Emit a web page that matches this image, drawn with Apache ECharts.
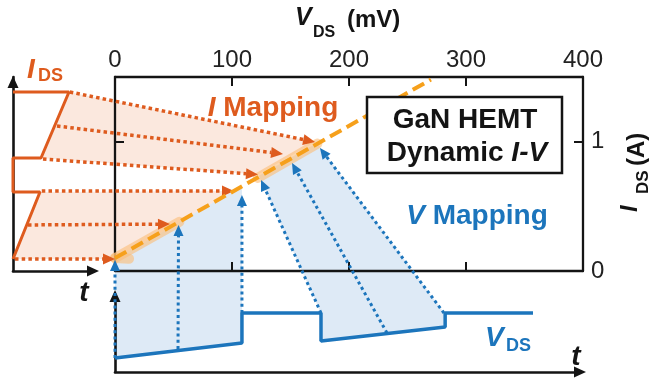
<!DOCTYPE html>
<html>
<head>
<meta charset="utf-8">
<script src="https://cdn.jsdelivr.net/npm/echarts@6/dist/echarts.min.js"></script>
<style>
html, body { margin: 0; padding: 0; background: #fff; }
#chart { width: 649px; height: 384px; }
</style>
</head>
<body>
<div id="chart"></div>
<script>
// ---------- I–V plane: V_DS (mV) vs I_DS (A) ----------
const vTicks = [0, 100, 200, 300, 400];
const iTickLabels = [0, 1];
const loadLine = [[0, 0.10], [270, 1.48]];
const measuredStart = [[0, 0.10], [12, 0.095]];
const measuredLow = [[0, 0.10], [55, 0.38]];
const measuredHigh = [[122, 0.72], [173, 0.985]];

// ---------- current waveform: t (a.u.) vs I_DS (A) ----------
const iWave = [[0, 0.093], [3.375, 0.611], [0, 0.611], [0, 0.874], [3.5, 0.874], [7.0, 1.384], [0, 1.384]];

// ---------- voltage waveform: t (a.u.) vs V_DS (a.u.) ----------
const vWave = [[0, 0.184], [2.73, 0.382], [2.73, 0.776], [4.43, 0.776], [4.43, 0.408], [7.10, 0.592], [7.10, 0.776], [8.99, 0.776]];

// I mapping: samples of the current waveform carried onto the I–V plane
const iMapFrom = [[0.25, 0.093], [1.875, 0.356], [3.6, 0.619], [3.75, 0.866], [5.5, 1.121], [7.1, 1.384]];
const iMapTo = [[0, 0.093], [47, 0.363], [101.7, 0.619], [122.2, 0.746], [143.6, 0.905], [171, 0.998]];

// V mapping: samples of the voltage waveform carried onto the I–V plane
const vMapFrom = [[0, 0.184], [1.355, 0.303], [2.73, 0.776], [4.43, 0.776], [5.85, 0.513], [7.075, 0.776]];
const vMapTo = [[0, 0.085], [54.3, 0.356], [108.5, 0.588], [124.8, 0.704], [151.3, 0.835], [175.2, 0.951]];

// shaded mapping regions: [coordinate space, point]
const iShadeA = [['i', [0, 0.093]], ['i', [3.375, 0.611]], ['iv', [101.7, 0.619]], ['iv', [0, 0.093]]];
const iShadeB = [['i', [3.5, 0.874]], ['i', [7.0, 1.384]], ['iv', [171, 0.998]], ['iv', [122.2, 0.746]]];
const vShadeA = [['v', [0, 0.184]], ['v', [2.73, 0.382]], ['iv', [108.5, 0.657]], ['iv', [0, 0.093]]];
const vShadeB = [['v', [4.43, 0.776]], ['iv', [123, 0.736]], ['iv', [172.6, 0.99]], ['v', [7.08, 0.776]], ['v', [7.10, 0.592]], ['v', [4.43, 0.408]]];

const ORANGE = '#de5b1e';
const BLUE = '#1c75bc';
const AMBER = '#f6a01b';
const INK = '#141414';
const FONT = '"Liberation Sans", Arial, Helvetica, sans-serif';

const chart = echarts.init(document.getElementById('chart'), null, { renderer: 'canvas' });

const boxLine = { show: true, onZero: false, lineStyle: { color: INK, width: 2.3 } };
const innerTick = { show: true, inside: true, length: 9, lineStyle: { color: INK, width: 2 } };
const tickLabel = { color: '#222', fontSize: 24, fontFamily: FONT };

function schematicAxis(extra, endOffset) {
  return Object.assign({
    type: 'value',
    axisLine: {
      show: true, onZero: false, symbol: ['none', 'triangle'], symbolSize: [11, 12],
      symbolOffset: [0, endOffset || 0],
      lineStyle: { color: INK, width: 2.6 }
    },
    axisTick: { show: false },
    axisLabel: { show: false },
    splitLine: { show: false },
    z: 3
  }, extra);
}

const bandStyle = { color: 'rgba(251,188,118,0.6)', width: 10, cap: 'round', join: 'round' };

const option = {
  animation: false,
  backgroundColor: '#fff',
  grid: [
    { left: 115, top: 77, width: 468, height: 194 },
    { left: 13, top: 77, width: 80, height: 194 },
    { left: 115, top: 296, width: 465, height: 76 }
  ],
  xAxis: [
    {
      gridIndex: 0, type: 'value', position: 'top', min: vTicks[0], max: vTicks[vTicks.length - 1], interval: vTicks[1] - vTicks[0],
      axisLine: boxLine, axisTick: innerTick,
      axisLabel: Object.assign({ margin: 5 }, tickLabel),
      splitLine: { show: false }, z: 3
    },
    {
      gridIndex: 0, type: 'value', position: 'bottom', min: vTicks[0], max: vTicks[vTicks.length - 1], interval: vTicks[1] - vTicks[0],
      axisLine: boxLine, axisTick: innerTick, axisLabel: { show: false },
      splitLine: { show: false }, z: 3
    },
    schematicAxis({ gridIndex: 1, position: 'bottom', min: 0, max: 10 }),
    schematicAxis({ gridIndex: 2, position: 'bottom', min: 0, max: 10 })
  ],
  yAxis: [
    {
      gridIndex: 0, type: 'value', position: 'right', min: 0, max: 1.5, interval: 1,
      axisLine: boxLine, axisTick: innerTick,
      axisLabel: Object.assign({
        margin: 8, showMaxLabel: false,
        formatter: v => (iTickLabels.indexOf(v) >= 0 ? String(v) : '')
      }, tickLabel),
      splitLine: { show: false }, z: 3
    },
    {
      gridIndex: 0, type: 'value', position: 'left', min: 0, max: 1.5, interval: 1,
      axisLine: boxLine, axisTick: innerTick, axisLabel: { show: false },
      splitLine: { show: false }, z: 3
    },
    schematicAxis({ gridIndex: 1, position: 'left', min: 0, max: 1.5 }, -5),
    schematicAxis({ gridIndex: 2, position: 'left', min: 0, max: 1 })
  ],
  series: [
    { type: 'line', xAxisIndex: 0, yAxisIndex: 0, data: measuredStart, showSymbol: false, silent: true, z: 4, lineStyle: bandStyle },
    { type: 'line', xAxisIndex: 0, yAxisIndex: 0, data: measuredLow, showSymbol: false, silent: true, z: 4, lineStyle: bandStyle },
    { type: 'line', xAxisIndex: 0, yAxisIndex: 0, data: measuredHigh, showSymbol: false, silent: true, z: 4, lineStyle: bandStyle },
    {
      type: 'line', xAxisIndex: 0, yAxisIndex: 0, data: loadLine, showSymbol: false, silent: true, z: 6,
      lineStyle: { color: AMBER, width: 4, type: [13, 6] }
    },
    {
      type: 'line', xAxisIndex: 2, yAxisIndex: 2, data: iWave, showSymbol: false, silent: true, z: 6,
      lineStyle: { color: ORANGE, width: 3 }
    },
    {
      type: 'line', xAxisIndex: 3, yAxisIndex: 3, data: vWave, showSymbol: false, silent: true, z: 6,
      lineStyle: { color: BLUE, width: 3.5 }
    }
  ]
};

chart.setOption(option);

// pixel converters for the three coordinate spaces
const toPx = {
  iv: p => chart.convertToPixel({ xAxisIndex: 0, yAxisIndex: 0 }, p),
  i: p => chart.convertToPixel({ xAxisIndex: 2, yAxisIndex: 2 }, p),
  v: p => chart.convertToPixel({ xAxisIndex: 3, yAxisIndex: 3 }, p)
};

function shade(points, color) {
  return {
    type: 'polygon', z: 1, silent: true,
    shape: { points: points.map(([space, p]) => toPx[space](p)) },
    style: { fill: color }
  };
}

function arrow(a, b, color, width, dash, headLen, headW) {
  const dx = b[0] - a[0], dy = b[1] - a[1];
  const len = Math.hypot(dx, dy);
  const ux = dx / len, uy = dy / len;
  const bx = b[0] - ux * headLen, by = b[1] - uy * headLen;
  return [
    {
      type: 'line', z: 5, silent: true,
      shape: { x1: a[0], y1: a[1], x2: bx, y2: by },
      style: { stroke: color, lineWidth: width, lineDash: dash }
    },
    {
      type: 'polygon', z: 5, silent: true,
      shape: { points: [[b[0], b[1]], [bx - uy * headW / 2, by + ux * headW / 2], [bx + uy * headW / 2, by - ux * headW / 2]] },
      style: { fill: color }
    }
  ];
}

function label(text, x, y, opts) {
  const o = opts || {};
  const align = o.align || 'left';
  return {
    type: 'text', x: x, y: y, z: 9, silent: true, rotation: o.rotation || 0,
    style: {
      text: text,
      fill: o.color || INK,
      fontFamily: FONT,
      fontSize: o.size || 24,
      fontWeight: 'bold',
      fontStyle: o.italic ? 'italic' : 'normal',
      align: align, textAlign: align,
      verticalAlign: 'middle', textVerticalAlign: 'middle',
      rich: o.rich
    }
  };
}

function richStyle(size, color, italic) {
  return { fontFamily: FONT, fontSize: size, fontWeight: 'bold', fontStyle: italic ? 'italic' : 'normal', fill: color };
}

const elements = [];

// shaded regions
elements.push(shade(iShadeA, '#fbe8de'));
elements.push(shade(iShadeB, '#fbe8de'));
elements.push(shade(vShadeA, '#deeaf6'));
elements.push(shade(vShadeB, '#deeaf6'));

// mapping arrows
iMapFrom.forEach((p, k) => {
  elements.push(...arrow(toPx.i(p), toPx.iv(iMapTo[k]), ORANGE, 3.5, [3.5, 3.2], 12, 11));
});
vMapFrom.forEach((p, k) => {
  elements.push(...arrow(toPx.v(p), toPx.iv(vMapTo[k]), BLUE, 3, [3, 3.2], 11, 10));
});

// device label box
elements.push({
  type: 'rect', z: 8, silent: true,
  shape: { x: 367, y: 97, width: 195, height: 76 },
  style: { fill: '#fff', stroke: INK, lineWidth: 2.5 }
});
elements.push(label('GaN HEMT', 465, 120, { size: 28, align: 'center' }));
elements.push(label('{n|Dynamic }{i|I-V}', 467, 153, {
  align: 'center',
  rich: { n: richStyle(28, INK, false), i: richStyle(28, INK, true) }
}));

// mapping captions
elements.push(label('{i|I}{n| Mapping}', 273, 108, {
  align: 'center',
  rich: { i: richStyle(28, ORANGE, true), n: richStyle(28, ORANGE, false) }
}));
elements.push(label('{i|V}{n| Mapping}', 477, 216, {
  align: 'center',
  rich: { i: richStyle(28, BLUE, true), n: richStyle(28, BLUE, false) }
}));

// axis titles of the I–V plane
elements.push(label('V', 295, 18.5, { size: 25, italic: true }));
elements.push(label('DS', 313, 32.5, { size: 16 }));
elements.push(label('(mV)', 347, 20, { size: 24 }));
elements.push(label('I', 630, 212, { size: 24, italic: true, rotation: Math.PI / 2 }));
elements.push(label('DS', 643, 194, { size: 17, rotation: Math.PI / 2 }));
elements.push(label('(A)', 637, 166, { size: 24, rotation: Math.PI / 2 }));

// waveform captions
elements.push(label('I', 27, 70, { size: 28, italic: true, color: ORANGE }));
elements.push(label('DS', 38, 76.5, { size: 18, color: ORANGE }));
elements.push(label('t', 84, 293, { size: 28, italic: true, align: 'center' }));
elements.push(label('V', 485, 338, { size: 28, italic: true, color: BLUE }));
elements.push(label('DS', 506, 346.5, { size: 18, color: BLUE }));
elements.push(label('t', 576, 357.5, { size: 28, italic: true, align: 'center' }));

chart.setOption({ graphic: { elements: elements } });
</script>
</body>
</html>
